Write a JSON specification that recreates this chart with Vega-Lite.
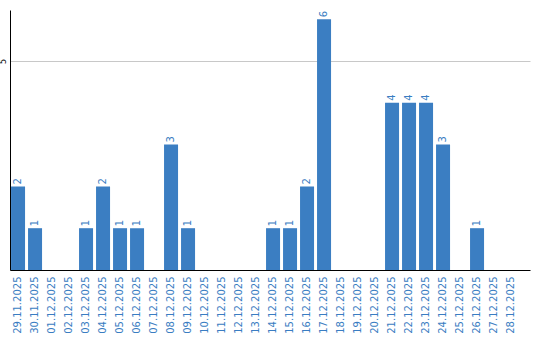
{
  "$schema": "https://vega.github.io/schema/vega-lite/v6.json",
  "width": 520,
  "height": 260,
  "autosize": "none",
  "padding": {"left": 10, "top": 10, "right": 10, "bottom": 70},
  "background": "white",
  "config": {"view": {"stroke": null}, "font": "DejaVu Sans"},
  "data": {"values": [
    {"date": "29.11.2025", "count": 2},
    {"date": "30.11.2025", "count": 1},
    {"date": "01.12.2025", "count": 0},
    {"date": "02.12.2025", "count": 0},
    {"date": "03.12.2025", "count": 1},
    {"date": "04.12.2025", "count": 2},
    {"date": "05.12.2025", "count": 1},
    {"date": "06.12.2025", "count": 1},
    {"date": "07.12.2025", "count": 0},
    {"date": "08.12.2025", "count": 3},
    {"date": "09.12.2025", "count": 1},
    {"date": "10.12.2025", "count": 0},
    {"date": "11.12.2025", "count": 0},
    {"date": "12.12.2025", "count": 0},
    {"date": "13.12.2025", "count": 0},
    {"date": "14.12.2025", "count": 1},
    {"date": "15.12.2025", "count": 1},
    {"date": "16.12.2025", "count": 2},
    {"date": "17.12.2025", "count": 6},
    {"date": "18.12.2025", "count": 0},
    {"date": "19.12.2025", "count": 0},
    {"date": "20.12.2025", "count": 0},
    {"date": "21.12.2025", "count": 4},
    {"date": "22.12.2025", "count": 4},
    {"date": "23.12.2025", "count": 4},
    {"date": "24.12.2025", "count": 3},
    {"date": "25.12.2025", "count": 0},
    {"date": "26.12.2025", "count": 1},
    {"date": "27.12.2025", "count": 0},
    {"date": "28.12.2025", "count": 0}
  ]},
  "encoding": {
    "x": {
      "field": "date", "type": "nominal", "sort": null,
      "scale": {"paddingInner": 0.176, "paddingOuter": 0.382, "align": 0.08, "round": false},
      "axis": {
        "title": null, "labelAngle": -90, "labelAlign": "right", "labelBaseline": "middle",
        "labelColor": "#3a7dc2", "labelFontSize": 10, "labelPadding": 6,
        "ticks": false, "domainColor": "#000000", "domainWidth": 1
      }
    },
    "y": {
      "field": "count", "type": "quantitative",
      "scale": {"domain": [0, 6.22], "nice": false},
      "axis": {
        "title": null, "values": [5], "ticks": false, "labelAngle": -90,
        "labelAlign": "center", "labelBaseline": "bottom", "labelFontSize": 8,
        "labelColor": "#000000", "labelPadding": 3,
        "gridColor": "#c8c8c8", "domainColor": "#000000", "domainWidth": 1
      }
    }
  },
  "layer": [
    {"mark": {"type": "bar", "color": "#3b7ec2"}},
    {
      "transform": [{"filter": "datum.count > 0"}],
      "mark": {"type": "text", "angle": 270, "align": "left", "baseline": "middle", "dx": 2, "fontSize": 10, "color": "#3a7dc2"},
      "encoding": {"text": {"field": "count", "type": "quantitative"}}
    }
  ]
}
